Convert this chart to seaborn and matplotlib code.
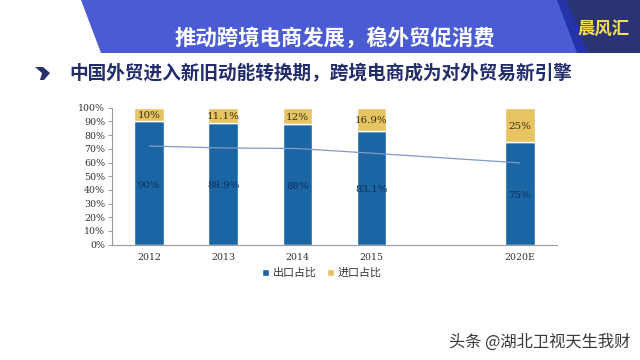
import matplotlib
matplotlib.use('Agg')
import matplotlib.pyplot as plt
import seaborn as sns
import pandas as pd
from matplotlib.patches import Polygon

years = ['2012', '2013', '2014', '2015', ' ', '2020E']
export_share = [90, 88.9, 88, 83.1, 0, 75]
import_share = [10, 11.1, 12, 16.9, 0, 25]
export_labels = ['90%', '88.9%', '88%', '83.1%', '', '75%']
import_labels = ['10%', '11.1%', '12%', '16.9%', '', '25%']
line_years = ['2012', '2013', '2014', '2015', '2020E']
line_values = [72, 70.6, 70.2, 66.8, 59.7]

sns.set_theme(style='white')
plt.rcParams['font.family'] = ['Noto Sans CJK SC', 'DejaVu Sans']

W, H = 640, 360
fig = plt.figure(figsize=(6.4, 3.6), dpi=100, facecolor='white')

# header shapes, in pixels from the top left
def px(points):
    return [(x / W, 1 - y / H) for x, y in points]

fig.add_artist(Polygon(px([(81, 0), (640, 0), (640, 53), (100.5, 53)]), transform=fig.transFigure, fc='#4A5BD3', ec='none'))
fig.add_artist(Polygon(px([(557, 0), (640, 0), (640, 53), (577, 53)]), transform=fig.transFigure, fc='#2433A8', ec='none'))
fig.add_artist(Polygon(px([(566, 0), (640, 0), (640, 53), (588, 53)]), transform=fig.transFigure, fc='#2B3472', ec='none'))
fig.add_artist(Polygon(px([(35, 67), (43, 67), (50, 73), (44, 80), (40, 80), (42, 73)]), transform=fig.transFigure, fc='#27306E', ec='none'))

fig.text(335 / W, 1 - 38 / H, '推动跨境电商发展，稳外贸促消费', color='white', fontsize=15.4, fontweight='bold', ha='center', va='center')
fig.text(604 / W, 1 - 29 / H, '晨风汇', color='#F3DD55', fontsize=12.5, fontweight='bold', ha='center', va='center')
fig.text(69 / W, 1 - 74 / H, '中国外贸进入新旧动能转换期，跨境电商成为对外贸易新引擎', color='#232C6B', fontsize=13.45, fontweight='bold', ha='left', va='center')
fig.text(630 / W, 1 - 342 / H, '头条 @湖北卫视天生我财', color='#3A3A3A', fontsize=11.7, ha='right', va='center')

ax = fig.add_axes([112 / W, 1 - 244.7 / H, 445 / W, 137 / H])
df = pd.DataFrame({'year': years, 'export': export_share, 'import': import_share})

sns.barplot(data=df, x='year', y='export', color='#1A66A5', saturation=1, width=0.4, ax=ax, label='出口占比')
sns.barplot(data=df, x='year', y='import', bottom=df['export'], color='#E6C462', saturation=1, width=0.4, ax=ax, label='进口占比')

# trend line runs across the gap before 2020E
line_pos = [years.index(y) for y in line_years]
sns.lineplot(x=line_pos, y=line_values, color='#7F9AC4', linewidth=0.9, ax=ax, legend=False)

for i in range(len(years)):
    ax.text(i, export_share[i] / 2 - 1.5, export_labels[i], ha='center', va='center', fontsize=7.4, family='DejaVu Serif', color='#10305A')
    ax.text(i, export_share[i] + import_share[i] / 2 - 1, import_labels[i], ha='center', va='center', fontsize=7.4, family='DejaVu Serif', color='#3A3010')

ax.set_xlim(-0.5, 5.5)
ax.set_ylim(0, 100)
ax.set_xlabel('')
ax.set_ylabel('')
ax.set_yticks(range(0, 101, 10))
ax.set_yticklabels([f'{v}%' for v in range(0, 101, 10)], fontsize=6.8, family='DejaVu Serif', color='#333333')
ax.set_xticks([i - 0.5 for i in range(7)], minor=True)
ax.set_xticks(range(6))
ax.set_xticklabels(years, fontsize=6.8, family='DejaVu Serif', color='#333333')
ax.tick_params(axis='x', which='major', length=0, pad=6)
ax.tick_params(axis='x', which='minor', length=3, width=0.7, color='#9A9A9A', direction='out')
ax.tick_params(axis='y', length=3, width=0.7, color='#9A9A9A', direction='out', pad=2)
ax.tick_params(left=True)
for side in ['top', 'right']:
    ax.spines[side].set_visible(False)
for side in ['left', 'bottom']:
    ax.spines[side].set_color('#9A9A9A')
    ax.spines[side].set_linewidth(0.8)

ax.legend(loc='center', bbox_to_anchor=(0.472, -0.207), ncol=2, frameon=False, fontsize=7.9,
          handlelength=0.6, handleheight=0.6, handletextpad=0.4, columnspacing=0.9, labelcolor='#333333')

fig.savefig('out.png', dpi=100)
